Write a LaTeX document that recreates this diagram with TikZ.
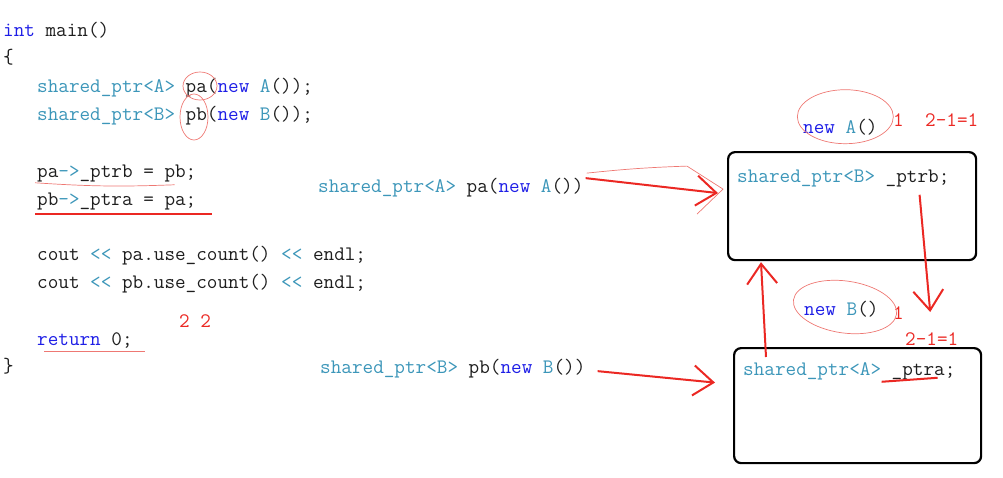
\documentclass[tikz,border=0pt]{standalone}
\usepackage{fontspec}
\usepackage{xcolor}
\usepackage{tikz}
\usetikzlibrary{arrows.meta, positioning, calc}
\definecolor{KeyBlue}{RGB}{30, 30, 230}
\definecolor{TypeTeal}{RGB}{60, 150, 185}
\definecolor{CodeBlack}{RGB}{30, 30, 30}
\definecolor{MarkRed}{RGB}{235, 40, 35}
\definecolor{InkRed}{RGB}{238, 120, 115}
\newcommand{\codefont}{\ttfamily\fontsize{20.6}{24}\selectfont}
\newcommand{\kwd}[1]{\textcolor{KeyBlue}{#1}}
\newcommand{\typ}[1]{\textcolor{TypeTeal}{#1}}

\begin{document}
\begin{tikzpicture}[x=1pt, y=-1pt,
  code/.style={font=\codefont, text=CodeBlack, anchor=base west, inner sep=0pt},
  note/.style={font=\codefont, text=MarkRed, anchor=base west, inner sep=0pt},
  obj/.style={draw=black, line width=2.2pt, rounded corners=7pt, anchor=north west},
  ptr/.style={-{Straight Barb[length=20pt, width=30pt]}, draw=MarkRed, line width=2pt},
  ink/.style={draw=InkRed, line width=0.7pt},
  inkbold/.style={draw=MarkRed, line width=2.2pt}
]
  \path[use as bounding box] (0,0) rectangle (1003,477);

  % ---- source code (left) ----
  \node[code] (lmain)  at (3,36)   {\kwd{int} main()};
  \node[code] (lopen)  at (3,63)   {\{};
  \node[code] (lpa)    at (37,92)  {\typ{shared\_ptr<A>} pa(\kwd{new} \typ{A}());};
  \node[code] (lpb)    at (37,120) {\typ{shared\_ptr<B>} pb(\kwd{new} \typ{B}());};
  \node[code] (lsetb)  at (37,177) {pa\typ{->}\_ptrb = pb;};
  \node[code] (lseta)  at (37,205) {pb\typ{->}\_ptra = pa;};
  \node[code] (lcnta)  at (37,260) {cout \typ{<<} pa.use\_count() \typ{<<} endl;};
  \node[code] (lcntb)  at (37,288) {cout \typ{<<} pb.use\_count() \typ{<<} endl;};
  \node[code] (lret)   at (37,345) {\kwd{return} 0;};
  \node[code] (lclose) at (3,372)  {\}};
  \node[note] (res)    at (179,327) {2 2};

  % marks on the code
  \draw[ink] (200,86) ellipse (17pt and 14pt);
  \draw[ink] (194,117) ellipse (14pt and 23pt);
  \draw[ink] ([xshift=-2pt,yshift=-1pt]lsetb.south west) to[bend right=3] ([xshift=-22pt,yshift=-3pt]lsetb.south east);
  \draw[inkbold] ([xshift=-2pt,yshift=-4pt]lseta.south west) -- ([xshift=15pt,yshift=-4pt]lseta.south east);
  \draw[ink] ([xshift=7pt,yshift=-3pt]lret.south west) -- ([xshift=12pt,yshift=-3pt]lret.south east);

  % ---- the two calls (middle) ----
  \node[code] (mka) at (318,192) {\typ{shared\_ptr<A>} pa(\kwd{new} \typ{A}())};
  \node[code] (mkb) at (320,373) {\typ{shared\_ptr<B>} pb(\kwd{new} \typ{B}())};

  % ---- heap objects (right) ----
  \node[obj, minimum width=248pt, minimum height=108pt] (objA) at (727,151) {};
  \node[obj, minimum width=247pt, minimum height=115pt] (objB) at (733,347) {};
  \node[code] (fldb) at (737,182) {\typ{shared\_ptr<B>} \_ptrb;};
  \node[code] (flda) at (743,375) {\typ{shared\_ptr<A>} \_ptra;};
  \node[code] (newa) at (803,133) {\kwd{new} \typ{A}()};
  \node[code] (newb) at (804,315) {\kwd{new} \typ{B}()};
  \node[note] (cnta) at (893,126) {1};
  \node[note] (deca) at (925,126) {2-1=1};
  \node[note] (cntb) at (893,319) {1};
  \node[note] (decb) at (905,345) {2-1=1};

  \draw[ink] ([xshift=5pt,yshift=10pt]newa.center) ellipse (48pt and 27pt);
  \draw[ink, rotate around={-8:(845,307)}] (845,307) ellipse (52pt and 26pt);
  \draw[inkbold, line width=2pt] ([xshift=-74pt,yshift=-2pt]flda.south east) -- ([xshift=-18pt,yshift=2pt]flda.south east);

  % ---- pointers ----
  \draw[ptr] ([xshift=2pt,yshift=9pt]mka.east) -- ([xshift=-9pt,yshift=13pt]objA.west);
  \draw[ink] ([xshift=3pt,yshift=14pt]mka.east) to[bend left=2] ([xshift=-40pt,yshift=40pt]objA.west)
    -- ([xshift=-4pt,yshift=17pt]objA.west) -- ([xshift=-30pt,yshift=-8pt]objA.west);
  \draw[ptr] ([xshift=12pt,yshift=-3pt]mkb.east) -- ([xshift=-18pt,yshift=23pt]objB.west);
  \draw[ptr] ([xshift=-30pt,yshift=-8pt]fldb.south east) -- ([xshift=-52pt,yshift=35pt]objB.north east);
  \draw[ptr] ([xshift=33pt,yshift=-10pt]objB.north west) -- ([xshift=34pt,yshift=-1pt]objA.south west);
\end{tikzpicture}
\end{document}
